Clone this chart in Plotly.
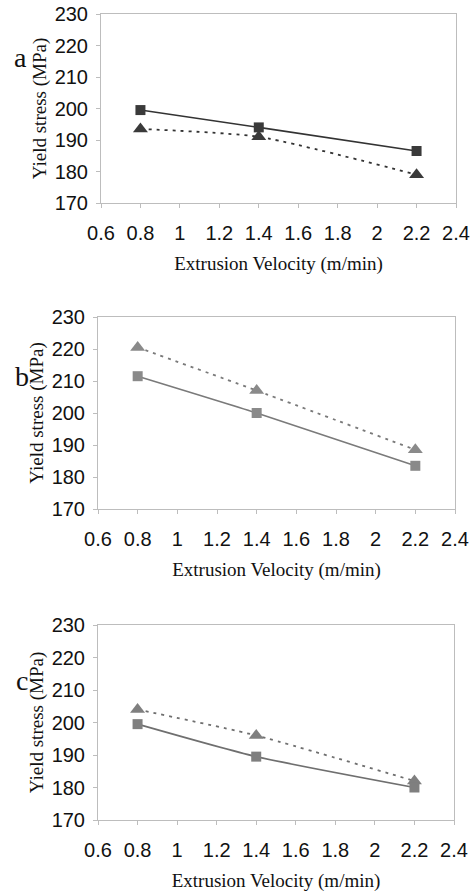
import plotly.graph_objects as go

velocity = [0.8, 1.4, 2.2]
a_square = [199.5, 194.0, 186.5]
a_triangle = [193.5, 191.0, 179.0]
b_square = [211.5, 200.0, 183.5]
b_triangle = [220.5, 207.0, 188.5]
c_square = [199.5, 189.5, 180.0]
c_triangle = [204.0, 196.0, 182.0]

x_ticks = [0.6, 0.8, 1.0, 1.2, 1.4, 1.6, 1.8, 2.0, 2.2, 2.4]
x_ticktext = ["0.6", "0.8", "1", "1.2", "1.4", "1.6", "1.8", "2", "2.2", "2.4"]
y_ticks = [170, 180, 190, 200, 210, 220, 230]
panel_labels = ["a", "b", "c"]

W = 475
H = 892
# plot areas in window pixels (top, bottom, left, right)
boxes = [(14, 203, 101, 456), (317, 509, 98, 455), (625, 820, 98, 454)]

panels = [
    (a_square, a_triangle, "#333333", "#3a3a3a"),
    (b_square, b_triangle, "#7a7a7a", "#8a8a8a"),
    (c_square, c_triangle, "#6f6f6f", "#7f7f7f"),
]


def fx(px):
    return px / W


def fy(py):
    return 1 - py / H


fig = go.Figure()
layout = {}
for i, ((sq, tr, lc, mc), (top, bot, l, r)) in enumerate(zip(panels, boxes)):
    n = "" if i == 0 else str(i + 1)
    xa = "x" + n
    ya = "y" + n
    fig.add_trace(go.Scatter(
        x=velocity, y=tr, mode="lines+markers", xaxis=xa, yaxis=ya,
        line=dict(color=lc, width=1.8, dash="3px,5px", shape="spline", smoothing=0.6),
        marker=dict(symbol="triangle-up", size=13, color=mc),
        showlegend=False))
    fig.add_trace(go.Scatter(
        x=velocity, y=sq, mode="lines+markers", xaxis=xa, yaxis=ya,
        line=dict(color=lc, width=1.6, shape="spline", smoothing=0.6),
        marker=dict(symbol="square", size=10, color=mc),
        showlegend=False))
    axcommon = dict(showline=True, linecolor="#bdbdbd", linewidth=1, mirror=True,
                    showgrid=False, zeroline=False, ticks="outside", ticklen=4,
                    tickcolor="#bdbdbd", automargin=False,
                    tickfont=dict(family="Liberation Sans, Arial", size=20, color="#111"))
    layout["xaxis" + n] = dict(
        axcommon, domain=[fx(l), fx(r)], range=[0.6, 2.4], anchor=ya,
        tickvals=x_ticks, ticktext=x_ticktext, ticklabelstandoff=8,
        title=dict(text="Extrusion Velocity (m/min)", standoff=13,
                   font=dict(family="Liberation Serif, Times New Roman", size=19, color="#111")))
    layout["yaxis" + n] = dict(
        axcommon, domain=[fy(bot), fy(top)], range=[170, 230], anchor=xa,
        tickvals=y_ticks, ticklabelstandoff=4,
        title=dict(text="Yield stress (MPa)", standoff=2,
                   font=dict(family="Liberation Serif, Times New Roman", size=19, color="#111")))

annotations = []
label_pos = [(20, 58), (22, 376), (22, 680)]
for lab, (px, py) in zip(panel_labels, label_pos):
    annotations.append(dict(text=lab, x=fx(px), y=fy(py), xref="paper", yref="paper",
                            showarrow=False, xanchor="center", yanchor="middle",
                            font=dict(family="Liberation Serif, Times New Roman", size=28, color="#111")))

fig.update_layout(**layout)
fig.update_layout(width=W, height=H, margin=dict(l=0, r=0, t=0, b=0),
                  paper_bgcolor="white", plot_bgcolor="white",
                  annotations=annotations)
fig.write_html("out.html", config={"displayModeBar": False},
               post_script="document.body.style.margin='0';document.body.style.overflow='hidden';")
